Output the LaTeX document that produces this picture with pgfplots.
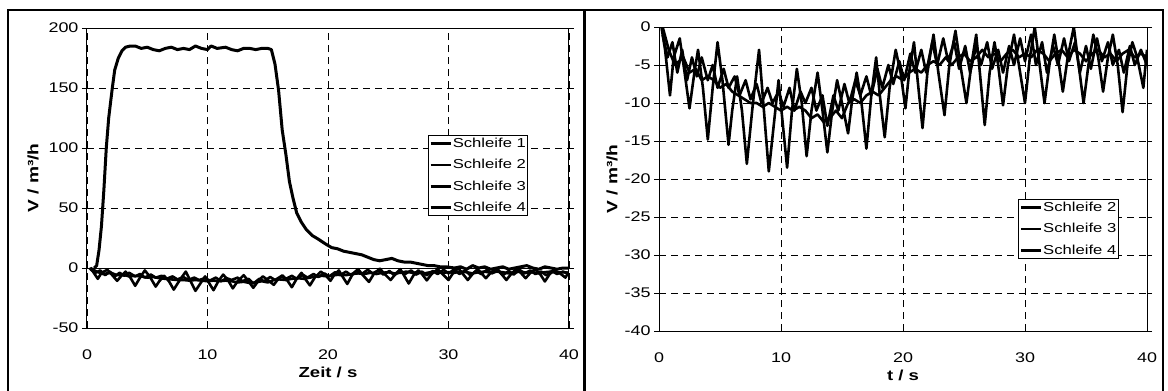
\documentclass[border=0pt]{standalone}
\usepackage{fontspec}
\setmainfont{Liberation Sans}[FakeStretch=1.28]
\usepackage{pgfplots}
\usepackage{pgfplotstable}
\pgfplotsset{compat=1.18}

\pgfplotstableread{
t v
0.6 0
0.8 2
1.0 15
1.2 35
1.4 65
1.6 100
1.8 125
2.1 150
2.3 165
2.6 175
2.9 181
3.2 184
3.6 185
4.0 185
4.5 183
5.0 184
5.5 182
6.0 181
6.5 183
7.0 184
7.5 182
8.0 183
8.5 182
9.0 185
9.5 183
10.0 182
10.3 185
10.8 183
11.5 184
12.0 182
12.5 181
13.0 183
13.5 183
14.0 182
14.5 183
15.0 183
15.3 182
15.6 170
15.9 148
16.2 115
16.5 95
16.8 72
17.1 58
17.4 46
17.8 38
18.2 32
18.7 27
19.2 24
19.8 20
20.3 17
20.8 16
21.3 14
21.8 13
22.3 12
22.8 11
23.3 9
23.8 7
24.3 6
24.8 7
25.3 8
25.8 6
26.3 5
26.8 5
27.3 4
27.8 3
28.3 2
28.8 2
29.3 1
29.8 1
30.5 0
31.0 1
31.5 -1
32.0 2
32.5 0
33.0 1
33.5 -1
34.0 0
34.5 1
35.0 -1
35.5 0
36.0 1
36.5 2
37.0 0
37.5 -1
38.0 1
38.5 0
39.0 -1
39.5 0
40.0 0
}\sone

\pgfplotstableread{
t v
0.2 0
0.5 -3
0.9 -9
1.2 -4
1.7 -1.5
2.1 -6
2.5 -10.7
2.9 -6
3.2 -3
3.6 -8
4.0 -14.8
4.4 -8
4.8 -2
5.2 -7
5.7 -15.5
6.0 -11
6.4 -6.5
6.8 -11
7.2 -18
7.7 -10
8.2 -3
8.6 -11
9.0 -19
9.4 -13
9.8 -7
10.1 -12
10.5 -18.5
10.9 -11
11.3 -5.5
11.7 -10
12.1 -17
12.5 -11
13.0 -6
13.4 -11
13.8 -16.5
14.2 -11
14.6 -7
15.0 -10
15.5 -14
15.8 -10
16.2 -6
16.6 -10
17.0 -16
17.4 -9
17.8 -4
18.1 -9
18.5 -14.5
18.9 -8
19.4 -3
19.8 -6
20.2 -10.7
20.5 -6
20.9 -2
21.2 -7
21.6 -13.3
22.0 -6
22.5 -1
22.9 -6
23.4 -11.6
23.8 -5
24.3 -0.5
24.7 -5
25.2 -10
25.6 -5
26.0 -1
26.3 -6
26.7 -12.9
27.1 -6
27.5 -2
27.8 -5
28.2 -10.3
28.6 -5
29.1 -1
29.5 -5
30.0 -10
30.4 -4
30.8 0
31.2 -5
31.6 -10
32.0 -5
32.4 -1
32.7 -4
33.1 -8.5
33.5 -4
34.0 0
34.4 -5
34.8 -10
35.2 -5
35.6 -1
36.0 -4
36.4 -8.5
36.8 -4
37.2 -1
37.6 -5
38.0 -11.2
38.4 -5
38.8 -2
39.2 -4
39.7 -8
40.0 -3
}\stwo

\pgfplotstableread{
t v
0.3 0
0.8 -3
1.3 -5
2.0 -4
2.5 -6
3.0 -5.5
3.5 -7
4.0 -6.5
4.5 -7
5.0 -8
5.5 -7.5
6.0 -8.5
6.5 -9
7.0 -9.5
7.5 -10
8.0 -10
8.5 -10.5
9.0 -10
9.5 -10.5
10.0 -11
10.5 -10.5
11.0 -11
11.5 -10.5
12.0 -11
12.5 -12
13.0 -11.5
13.5 -12.5
14.0 -12
14.5 -11
15.0 -12
15.5 -10
16.0 -9.5
16.5 -10
17.0 -9
17.5 -8.5
18.0 -9
18.5 -8
19.0 -7
19.5 -6.5
20.0 -7
20.5 -6
21.0 -5.5
21.5 -6
22.0 -5
22.5 -4.5
23.0 -5
23.5 -4
24.0 -5
24.5 -4
25.0 -3.5
25.5 -4.5
26.0 -4
26.5 -3
27.0 -4
27.5 -3.5
28.0 -4.5
28.5 -3.5
29.0 -3
29.5 -4
30.0 -3.5
30.5 -4
31.0 -3
31.5 -3.5
32.0 -4.5
32.5 -3.5
33.0 -3
33.5 -4
34.0 -3
34.5 -3.5
35.0 -4.5
35.5 -3.5
36.0 -3
36.5 -4
37.0 -3.5
37.5 -4.5
38.0 -3.5
38.5 -3
39.0 -4
39.5 -3.5
40.0 -4
}\sthree

\pgfplotstableread{
t v
0.3 -1
0.7 -4
1.1 -2
1.5 -6
1.9 -3
2.3 -7
2.7 -4
3.1 -6.5
3.5 -4
4.0 -7
4.4 -5
4.8 -8
5.3 -5.5
5.7 -8
6.2 -6.5
6.6 -9
7.1 -7
7.5 -9.5
8.0 -7.5
8.4 -10
8.9 -8
9.3 -10
9.8 -8.5
10.2 -10.5
10.7 -8
11.1 -11
11.6 -8.5
12.0 -10
12.5 -8
12.9 -11
13.4 -9
13.8 -13
14.3 -9
14.7 -11
15.2 -7.5
15.6 -10
16.1 -7
16.5 -9
17.0 -6.5
17.4 -9
17.9 -5.5
18.3 -8
18.8 -5
19.2 -7.5
19.7 -4.5
20.1 -7
20.6 -3.5
21.0 -6
21.5 -3
21.9 -6
22.4 -2
22.8 -5
23.3 -1.5
23.7 -4.5
24.2 -2
24.6 -5.5
25.1 -2.5
25.5 -6
26.0 -2.5
26.4 -5
26.9 -2
27.3 -5.5
27.8 -3
28.2 -6
28.7 -2.5
29.1 -5
29.6 -1.5
30.0 -4.5
30.5 -1
30.9 -5
31.4 -2
31.8 -6
32.3 -2.5
32.7 -5
33.2 -1.5
33.6 -4.5
34.1 -2
34.5 -6
35.0 -2.5
35.4 -5.5
35.9 -1.5
36.3 -4.5
36.8 -2
37.2 -5
37.7 -3
38.1 -6
38.6 -2.5
39.0 -5
39.5 -3
40.0 -5
}\sfour

\pgfplotsset{
  myaxis/.style={
    scale only axis,
    xmin=0, xmax=40,
    xtick={0,10,20,30,40},
    xticklabels={0,10,20,30,40},
    grid=major,
    major grid style={black, line width=0.8pt, dash pattern=on 7pt off 5pt},
    axis line style={black, line width=1pt},
    tick align=outside,
    major tick length=5pt,
    ytick style={black, line width=0.9pt},
    xtick style={draw=none},
    tick label style={font=\fontsize{14}{16}\selectfont},
    xticklabel style={yshift=-13pt},
    xlabel style={font=\bfseries\fontsize{14.5}{16}\selectfont, at={(axis description cs:0.5,0)}, anchor=center, yshift=-44pt},
    ylabel style={font=\bfseries\fontsize{15}{17}\selectfont, anchor=center},
    legend style={draw=black, line width=0.9pt, fill=white,
      font=\fontsize{13}{15}\selectfont, inner xsep=1pt, inner ysep=1.5pt,
      row sep=8.5pt, nodes={inner sep=1pt}},
    legend cell align=left,
    legend image code/.code={\draw[black, line width=2.6pt] (0pt,0pt) -- (20pt,0pt);},
  },
  dl/.style={black, line width=2.6pt, line join=round, mark=none},
}

\begin{document}
\begin{tikzpicture}
\useasboundingbox (0pt,0pt) rectangle (1168pt,-391pt);
\draw[line width=1.4pt] (8pt,-10pt) rectangle (585pt,-400pt);
\draw[line width=1.4pt] (584pt,-10pt) rectangle (1163pt,-400pt);

\begin{axis}[myaxis,
  at={(87pt,-328pt)}, anchor=south west,
  width=482pt, height=300pt,
  ymin=-50, ymax=200,
  ytick={-50,0,50,100,150,200},
  yticklabels={-50,0,50,100,150,200},
  extra y ticks={0}, extra y tick labels={},
  extra y tick style={major grid style={black, solid, line width=0.9pt}, ytick style={draw=none}},
  xlabel={Zeit / s},
  ylabel={V / m³/h},
  ylabel style={at={(axis description cs:-0.112,0.5)}},
  legend style={at={(axis description cs:0.707,0.643)}, anchor=north west},
]
\addplot[dl, line width=3pt] table[x=t,y=v] {\sone};
\addplot[dl] table[x=t,y=v] {\stwo};
\addplot[dl] table[x=t,y=v] {\sthree};
\addplot[dl] table[x=t,y=v] {\sfour};
\legend{Schleife 1,Schleife 2,Schleife 3,Schleife 4}
\end{axis}

\begin{axis}[myaxis,
  at={(659pt,-331pt)}, anchor=south west,
  width=488pt, height=304pt,
  ymin=-40, ymax=0,
  ytick={-40,-35,-30,-25,-20,-15,-10,-5,0},
  yticklabels={-40,-35,-30,-25,-20,-15,-10,-5,0},
  xlabel={t / s},
  ylabel={V / m³/h},
  ylabel style={at={(axis description cs:-0.096,0.5)}},
  legend style={at={(axis description cs:0.736,0.434)}, anchor=north west},
]
\addplot[dl] table[x=t,y=v] {\stwo};
\addplot[dl] table[x=t,y=v] {\sthree};
\addplot[dl] table[x=t,y=v] {\sfour};
\legend{Schleife 2,Schleife 3,Schleife 4}
\end{axis}
\end{tikzpicture}
\end{document}
